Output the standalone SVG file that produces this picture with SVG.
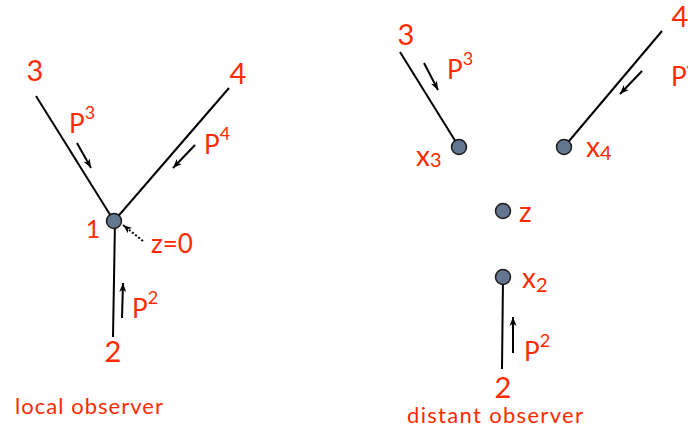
<svg xmlns="http://www.w3.org/2000/svg" width="688" height="428" viewBox="0 0 688 428">
<defs>
<marker id="ah" markerWidth="10" markerHeight="8" refX="9" refY="4" orient="auto" markerUnits="userSpaceOnUse">
<path d="M0,0.5 L9,4 L0,7.5 L2.5,4 Z" fill="#000"/>
</marker>
</defs>
<style>
.t{font-family:Lato,"Open Sans","Liberation Sans",sans-serif;fill:#ff2a00}
.n{font-size:29px}
.p{font-size:26px}
.s{font-size:18px}
.ln{stroke:#000;stroke-width:2;fill:none}
.ar{stroke:#000;stroke-width:2;fill:none;marker-end:url(#ah)}
.dot{stroke:#000;stroke-width:2;stroke-dasharray:2 2;fill:none;marker-end:url(#ah)}
.nd{fill:#627690;stroke:#1a1a1a;stroke-width:1.5}
</style>
<rect width="688" height="428" fill="#fff"/>
<g id="connectors">
<line class="ln" x1="36" y1="96" x2="114" y2="221"/>
<line class="ln" x1="229" y1="88" x2="114" y2="221"/>
<line class="ln" x1="113" y1="337" x2="115" y2="221"/>
<line class="ar" x1="77" y1="143" x2="91" y2="168"/>
<line class="ar" x1="195" y1="145" x2="173" y2="168"/>
<line class="ar" x1="122" y1="318" x2="123" y2="283"/>
<line class="dot" x1="143" y1="241" x2="123" y2="225"/>
<line class="ln" x1="400" y1="52" x2="459" y2="147"/>
<line class="ln" x1="662" y1="31" x2="564" y2="147"/>
<line class="ln" x1="503" y1="277" x2="502" y2="369"/>
<line class="ar" x1="424" y1="63" x2="438" y2="90"/>
<line class="ar" x1="642" y1="71" x2="620" y2="94"/>
<line class="ar" x1="513" y1="353" x2="513" y2="317"/>
</g>
<g id="left-vertex">
<circle class="nd" cx="114" cy="221" r="7.5"/>
<text class="t" x="93" y="238" font-size="25" text-anchor="middle">1</text>
<text class="t" x="151" y="253" font-size="26">z=0</text>
</g>
<g id="left-labels">
<text class="t n" x="35" y="81" text-anchor="middle">3</text>
<text class="t n" x="238" y="84" text-anchor="middle">4</text>
<text class="t n" x="113" y="362" text-anchor="middle">2</text>
<text class="t p" x="69" y="133">P<tspan class="s" dy="-14">3</tspan></text>
<text class="t p" x="204" y="154">P<tspan class="s" dy="-14">4</tspan></text>
<text class="t p" x="132" y="318">P<tspan class="s" dy="-14">2</tspan></text>
<text class="t" x="15" y="414" font-size="22" textLength="148">local observer</text>
</g>
<g id="node-x3">
<circle class="nd" cx="459" cy="147" r="7.5"/>
<text class="t" x="416" y="166" font-size="28">x<tspan font-size="20" dy="1">3</tspan></text>
</g>
<g id="node-x4">
<circle class="nd" cx="564" cy="147" r="7.5"/>
<text class="t" x="586" y="157" font-size="28">x<tspan font-size="20" dy="3">4</tspan></text>
</g>
<g id="node-z">
<circle class="nd" cx="503" cy="211" r="7.5"/>
<text class="t" x="519" y="222" font-size="28">z</text>
</g>
<g id="node-x2">
<circle class="nd" cx="503" cy="277" r="7.5"/>
<text class="t" x="522" y="288" font-size="28">x<tspan font-size="20" dy="4">2</tspan></text>
</g>
<g id="right-labels">
<text class="t n" x="406" y="45" text-anchor="middle">3</text>
<text class="t n" x="680" y="27" text-anchor="middle">4</text>
<text class="t n" x="503" y="398" text-anchor="middle">2</text>
<text class="t p" x="447" y="79">P<tspan class="s" dy="-14">3</tspan></text>
<text class="t p" x="671" y="86">P<tspan class="s" dy="-14">4</tspan></text>
<text class="t p" x="524" y="361">P<tspan class="s" dy="-14">2</tspan></text>
<text class="t" x="407" y="423" font-size="22" textLength="176">distant observer</text>
</g>
</svg>
